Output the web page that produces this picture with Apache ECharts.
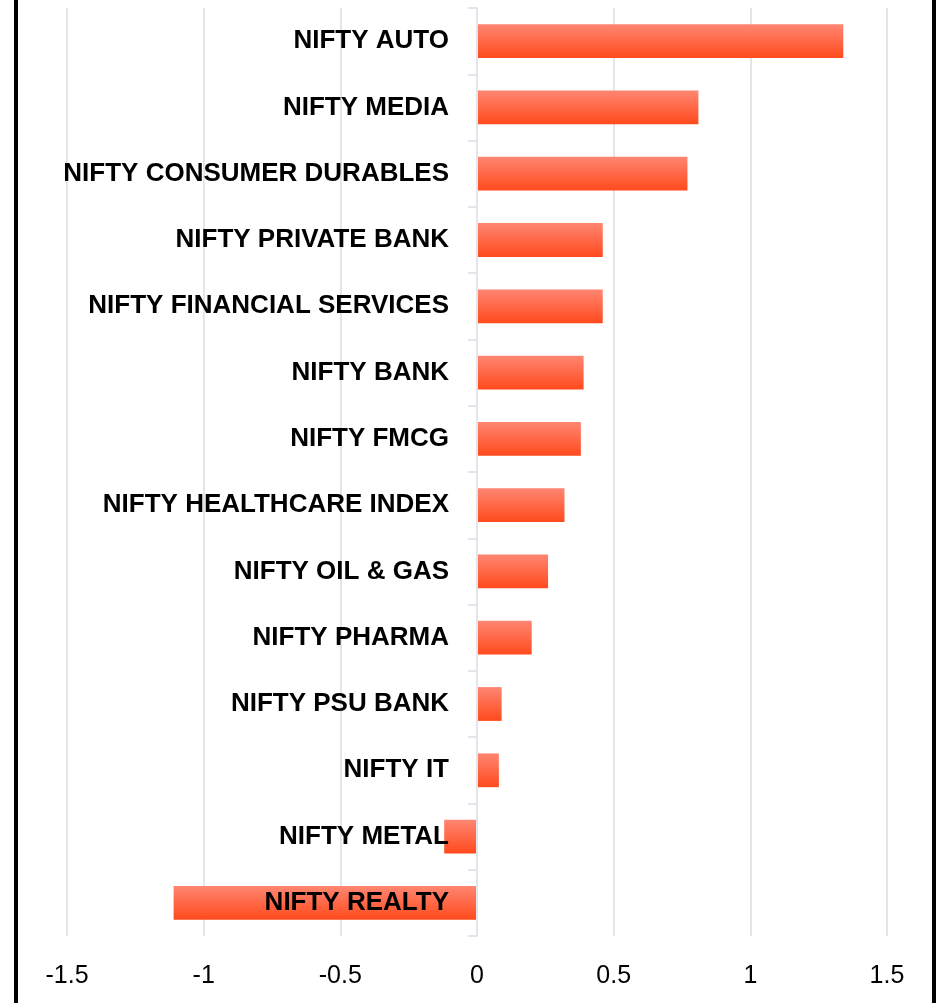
<!DOCTYPE html>
<html>
<head>
<meta charset="utf-8">
<script src="https://cdn.jsdelivr.net/npm/echarts@6/dist/echarts.min.js"></script>
<style>
html,body{margin:0;padding:0;background:#fff;}
#chart{width:936px;height:1003px;}
</style>
</head>
<body>
<div id="chart"></div>
<script>
const categories = [
  "NIFTY AUTO","NIFTY MEDIA","NIFTY CONSUMER DURABLES","NIFTY PRIVATE BANK",
  "NIFTY FINANCIAL SERVICES","NIFTY BANK","NIFTY FMCG","NIFTY HEALTHCARE INDEX",
  "NIFTY OIL & GAS","NIFTY PHARMA","NIFTY PSU BANK","NIFTY IT","NIFTY METAL","NIFTY REALTY"
];
const values = [1.34,0.81,0.77,0.46,0.46,0.39,0.38,0.32,0.26,0.20,0.09,0.08,-0.12,-1.11];
const xTicks = [-1.5,-1,-0.5,0,0.5,1,1.5];

const FONT = '"Liberation Sans Narrow","Arial Narrow","Liberation Sans",Arial,sans-serif';
const GRID_LEFT = 67, GRID_RIGHT = 49;
const chartWidth = 936;
const plotW = chartWidth - GRID_LEFT - GRID_RIGHT;
// zero position offset along x-axis, derived from the axis range
const zeroOffset = plotW * (0 - xTicks[0]) / (xTicks[xTicks.length-1] - xTicks[0]);

const chart = echarts.init(document.getElementById('chart'));
chart.setOption({
  animation:false,
  backgroundColor:'#ffffff',
  grid:{left:GRID_LEFT,right:GRID_RIGHT,top:8,bottom:67,containLabel:false,outerBoundsMode:'none'},
  xAxis:{
    type:'value',min:xTicks[0],max:xTicks[xTicks.length-1],interval:0.5,
    axisLine:{show:false},axisTick:{show:false},
    splitLine:{show:true,lineStyle:{color:'#E2E5EC',width:2}},
    axisLabel:{margin:28,fontFamily:FONT,fontSize:25,color:'#000',
      formatter:v=>String(v)}
  },
  yAxis:{
    type:'category',data:categories,inverse:true,z:10,
    offset:-zeroOffset,
    axisLine:{show:true,onZero:false,lineStyle:{color:'#E2E5EC',width:2}},
    axisTick:{show:true,length:9,lineStyle:{color:'#E2E5EC',width:2}},
    axisLabel:{margin:28,fontFamily:FONT,fontSize:26,fontWeight:'bold',color:'#000',padding:[5,0,0,0]},
    splitLine:{show:false}
  },
  series:[{
    type:'bar',data:values,barWidth:'51%',z:2,
    itemStyle:{color:new echarts.graphic.LinearGradient(0,0,0,1,[
      {offset:0,color:'#FF8672'},{offset:1,color:'#FF4A1C'}])}
  }],
  graphic:[
    {type:'rect',shape:{x:14,y:0,width:4,height:1003},style:{fill:'#000'}},
    {type:'rect',shape:{x:932,y:0,width:4,height:1003},style:{fill:'#000'}}
  ]
});
</script>
</body>
</html>
